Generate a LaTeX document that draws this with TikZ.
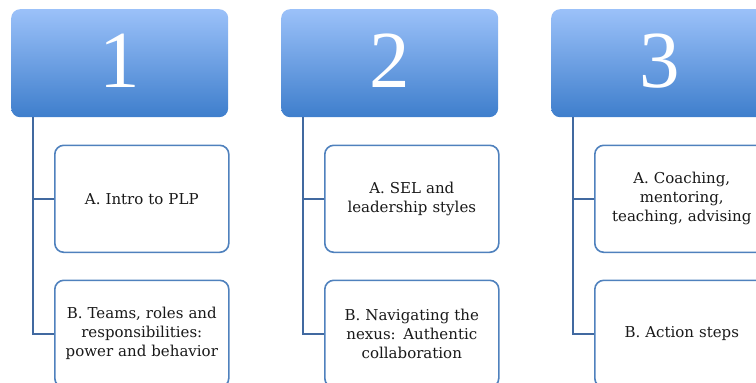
\documentclass[tikz,border=0pt]{standalone}
\usepackage{fontspec}
\setmainfont{DejaVu Serif}
\newfontfamily\numfont{Liberation Serif}
\definecolor{hdtop}{RGB}{155,193,249}
\definecolor{hdbot}{RGB}{62,126,204}
\definecolor{boxline}{RGB}{79,129,189}
\definecolor{linkcol}{RGB}{65,105,160}
\definecolor{ink}{RGB}{25,25,25}
\begin{document}
\begin{tikzpicture}[x=1pt,y=-1pt,
  header/.style={rounded corners=9pt, top color=hdtop, bottom color=hdbot,
    draw=none, minimum width=217pt, minimum height=108pt, inner sep=0pt,
    text=white, text depth=5pt, anchor=north west,
    font=\numfont\fontsize{81}{81}\selectfont},
  item/.style={draw=boxline, line width=1.6pt, rounded corners=9pt, fill=white,
    minimum width=174pt, minimum height=107pt, text width=168pt, align=center,
    anchor=north west, inner sep=0pt, text=ink,
    font=\fontsize{15}{19}\selectfont},
  link/.style={draw=linkcol, line width=2pt}]
\useasboundingbox (0,0) rectangle (756,383);
\clip (0,0) rectangle (756,383);

% column 1
\node[header] (h1) at (11,9) {1};
\node[item] (a1) at (54,144.5) {A. Intro to PLP};
\node[item] (b1) at (54,279.5) {B. Teams, roles and\\ responsibilities:\\ power and behavior};
\draw[link] ([xshift=21.5pt]h1.south west) |- (a1.west);
\draw[link] ([xshift=21.5pt]h1.south west) |- (b1.west);

% column 2
\node[header] (h2) at (281,9) {2};
\node[item] (a2) at (324,144.5) {A. SEL and\\ leadership styles};
\node[item] (b2) at (324,279.5) {B. Navigating the\\ nexus: Authentic\\ collaboration};
\draw[link] ([xshift=21.5pt]h2.south west) |- (a2.west);
\draw[link] ([xshift=21.5pt]h2.south west) |- (b2.west);

% column 3
\node[header] (h3) at (551,9) {3};
\node[item] (a3) at (594,144.5) {A. Coaching,\\ mentoring,\\ teaching, advising};
\node[item] (b3) at (594,279.5) {B. Action steps};
\draw[link] ([xshift=21.5pt]h3.south west) |- (a3.west);
\draw[link] ([xshift=21.5pt]h3.south west) |- (b3.west);
\end{tikzpicture}
\end{document}
